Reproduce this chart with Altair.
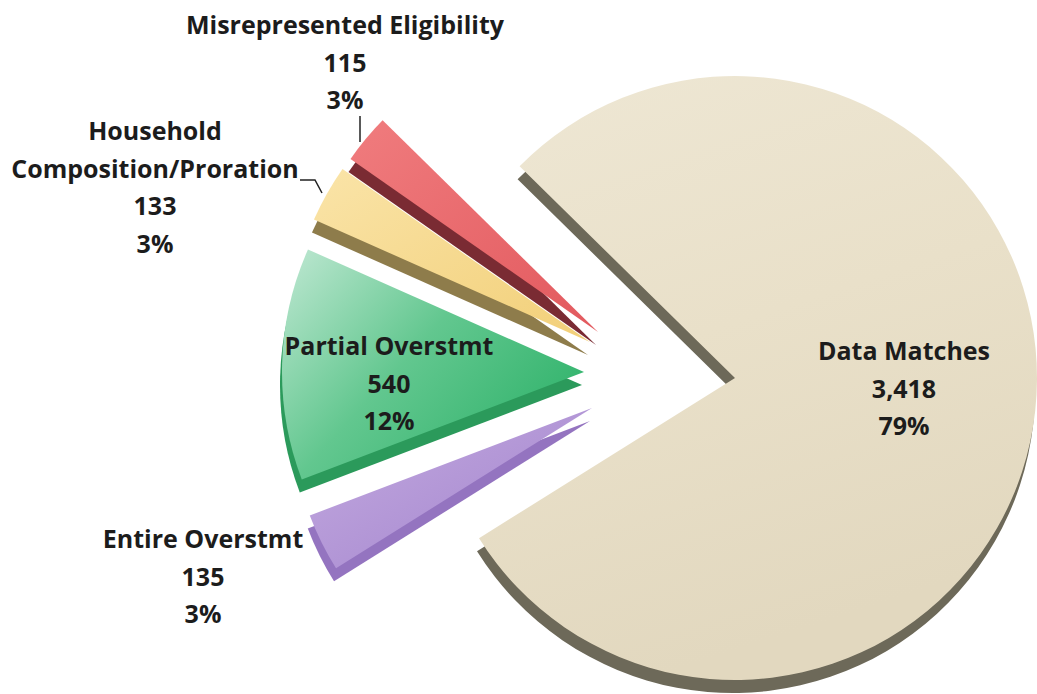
import math
import altair as alt
import pandas as pd

# ---------------- data ----------------
categories = ["Data Matches", "Entire Overstmt", "Partial Overstmt",
              "Household Composition/Proration", "Misrepresented Eligibility"]
counts = [3418, 135, 540, 133, 115]

# ---------------- layout / style ----------------
W, H = 1037, 694
CENTER = (735, 378)          # pixel centre of the un-exploded pie
RADIUS = 302
START_DEG = 314.5            # where the first slice (Data Matches) starts, clockwise from 12 o'clock
SHADOW_DX, SHADOW_DY = -2, 13

EXPLODE = {                  # explode offsets (px) of each slice
    "Data Matches": (0, 0),
    "Entire Overstmt": (-143, 30),
    "Partial Overstmt": (-151, -6),
    "Household Composition/Proration": (-145, -36),
    "Misrepresented Eligibility": (-137, -46),
}
LABEL_POS = {                # centre of the first line of each label (px)
    "Data Matches": (904, 352),
    "Entire Overstmt": (203, 540),
    "Partial Overstmt": (389, 347),
    "Household Composition/Proration": (155, 132),
    "Misrepresented Eligibility": (345, 26),
}
LABEL_WRAP = {"Household Composition/Proration": "Household\nComposition/Proration"}

STYLE = {   # face gradient stops, gradient direction, shadow colour
    "Data Matches": (["#eee7d4", "#e9e0c9", "#e2d8bf"], (0, 0, 0.3, 1), "#6d6959"),
    "Misrepresented Eligibility": (["#f07c7e", "#e2595e"], (0, 0, 1, 1), "#7a2b33"),
    "Household Composition/Proration": (["#fae4a8", "#f2cf78"], (0, 0, 1, 1), "#8e7c4b"),
    "Partial Overstmt": (["#c0e8d3", "#62c78f", "#30b36b"], (0, 0, 1, 0.7), "#2b9a5b"),
    "Entire Overstmt": (["#c4aae0", "#a284cd"], (0, 0, 1, 1), "#9474c0"),
}
DRAW_ORDER = ["Data Matches", "Misrepresented Eligibility",
              "Household Composition/Proration", "Partial Overstmt", "Entire Overstmt"]

LEADERS = [  # (group, order, x, y)
    ("misrep", 0, 360, 116), ("misrep", 1, 360, 142),
    ("house", 0, 300, 180), ("house", 1, 315, 180), ("house", 2, 322, 193),
]

FONT = "Open Sans"
FONT_SIZE = 25
LINE_H = 37.5

# ---------------- tables ----------------
total = sum(counts)
rows = []
cum = 0
for cat, n in zip(categories, counts):
    pct = round(100 * n / total)
    name = LABEL_WRAP.get(cat, cat)
    rows.append(dict(
        cat=cat, n=n, start=cum, end=cum + n,
        cx=CENTER[0] + EXPLODE[cat][0], cy=CENTER[1] + EXPLODE[cat][1],
        lx=LABEL_POS[cat][0], ly=LABEL_POS[cat][1],
        label=f"{name}\n{n:,}\n{pct}%",
    ))
    cum += n
df = pd.DataFrame(rows)
leaders = pd.DataFrame(LEADERS, columns=["g", "o", "x", "y"])

a0 = math.radians(START_DEG)
xs = alt.Scale(domain=[0, W], range=[0, W])
ys = alt.Scale(domain=[0, H], range=[0, H])
theta_scale = alt.Scale(domain=[0, total], range=[a0, a0 + 2 * math.pi])

base = alt.Chart(df)
enc = dict(
    x=alt.X("cx:Q", scale=xs, axis=None),
    y=alt.Y("cy:Q", scale=ys, axis=None),
    theta=alt.Theta("start:Q", scale=theta_scale, stack=None),
    theta2=alt.Theta2("end:Q"),
)

layers = []
for cat in DRAW_ORDER:
    stops, (x1, y1, x2, y2), shadow = STYLE[cat]
    n = len(stops)
    grad = {
        "gradient": "linear", "x1": x1, "y1": y1, "x2": x2, "y2": y2,
        "stops": [{"offset": i / (n - 1), "color": c} for i, c in enumerate(stops)],
    }
    sel = base.transform_filter(alt.FieldEqualPredicate(field="cat", equal=cat))
    layers.append(sel.mark_arc(radius=RADIUS, fill=shadow, stroke=None,
                               xOffset=SHADOW_DX, yOffset=SHADOW_DY).encode(**enc))
    layers.append(sel.mark_arc(radius=RADIUS, fill=grad, stroke=None).encode(**enc))

labels = base.mark_text(font=FONT, fontSize=FONT_SIZE, fontWeight="bold",
                        color="#1c1c1c", align="center", baseline="middle",
                        lineBreak="\n", lineHeight=LINE_H).encode(
    x=alt.X("lx:Q", scale=xs, axis=None),
    y=alt.Y("ly:Q", scale=ys, axis=None),
    text="label:N",
)

leader_lines = alt.Chart(leaders).mark_line(color="#222222", strokeWidth=1.5).encode(
    x=alt.X("x:Q", scale=xs, axis=None),
    y=alt.Y("y:Q", scale=ys, axis=None),
    detail="g:N",
    order="o:Q",
)

chart = alt.layer(*layers, leader_lines, labels).properties(
    width=W, height=H, padding=0, autosize=alt.AutoSizeParams(type="none"),
    background="white",
).configure_view(stroke=None)

chart.save("out.html", embed_options={"renderer": "svg", "actions": False})
